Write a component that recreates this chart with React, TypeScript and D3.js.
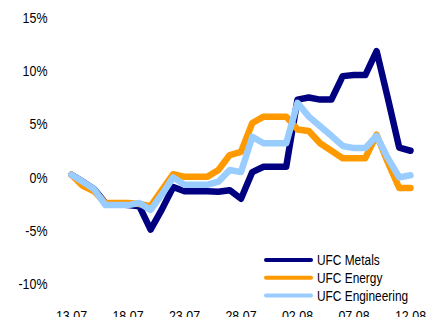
import React from "react";
import * as d3 from "d3";

const dates = [
  "13.07","14.07","15.07","16.07","17.07","18.07","19.07","20.07","21.07","22.07",
  "23.07","24.07","25.07","26.07","27.07","28.07","29.07","30.07","31.07","01.08",
  "02.08","03.08","04.08","05.08","06.08","07.08","08.08","09.08","10.08","11.08","12.08",
];
const tickLabels = ["13.07","18.07","23.07","28.07","02.08","07.08","12.08"];
const yTicks = [15, 10, 5, 0, -5, -10];

const metals = [
  0.25,-0.4,-1.1,-2.4,-2.5,-2.6,-2.7,-4.9,-3.0,-0.9,
  -1.3,-1.3,-1.3,-1.35,-1.2,-2.0,0.5,1.0,1.0,1.0,
  7.3,7.5,7.3,7.3,9.5,9.6,9.6,11.85,7.4,2.8,2.5,
];
const energy = [
  0.25,-0.8,-1.3,-2.4,-2.4,-2.4,-2.5,-2.7,-1.2,0.3,
  0.05,0.05,0.05,0.7,2.1,2.4,5.1,5.7,5.7,5.7,
  4.5,4.35,3.2,2.5,1.8,1.8,1.8,4.0,1.4,-1.0,-1.0,
];
const engineering = [
  0.25,-0.4,-1.1,-2.6,-2.6,-2.6,-2.4,-3.05,-1.6,0.0,
  -0.7,-0.7,-0.7,-0.4,0.7,0.5,3.8,3.2,3.2,3.2,
  7.0,5.7,4.8,3.9,2.95,2.75,2.75,3.9,1.8,0.0,0.2,
];

const seriesNames = ["UFC Metals", "UFC Energy", "UFC Engineering"];
const seriesColors = ["#000080", "#FF9900", "#99CCFF"];
const seriesData = [metals, energy, engineering];

const W = 427;
const H = 317;

export default function App() {
  const x = d3.scaleLinear().domain([0, dates.length - 1]).range([71.5, 410.5]);
  const y = d3.scaleLinear().domain([-10, 15]).range([284, 17.5]);
  const line = d3
    .line<number>()
    .x((_, i) => x(i))
    .y((d) => y(d));

  const font = "'Liberation Sans', Arial, sans-serif";

  return (
    <svg
      width={W}
      height={H}
      style={{ position: "fixed", left: 0, top: 0, background: "#fff" }}
    >
      {yTicks.map((t) => (
        <g key={t} transform={`translate(47.5,${y(t) + 5.3}) scale(0.86,1)`}>
          <text textAnchor="end" fontFamily={font} fontSize={14.5} fill="#000">
            {t}%
          </text>
        </g>
      ))}
      {tickLabels.map((lab) => {
        const i = dates.indexOf(lab);
        return (
          <g key={lab} transform={`translate(${x(i)},${320.5}) scale(0.86,1)`}>
            <text textAnchor="middle" fontFamily={font} fontSize={14.5} fill="#000">
              {lab}
            </text>
          </g>
        );
      })}
      {seriesData.map((d, k) => (
        <path
          key={seriesNames[k]}
          d={line(d) || ""}
          fill="none"
          stroke={seriesColors[k]}
          strokeWidth={6.5}
          strokeLinejoin="round"
          strokeLinecap="round"
        />
      ))}
      {seriesNames.map((n, k) => {
        const ly = 260 + k * 17.7;
        return (
          <g key={n}>
            <line
              x1={266}
              x2={311}
              y1={ly}
              y2={ly}
              stroke={seriesColors[k]}
              strokeWidth={4}
              strokeLinecap="round"
            />
            <g transform={`translate(317,${ly + 5.3}) scale(0.82,1)`}>
              <text fontFamily={font} fontSize={14.5} fill="#000">
                {n}
              </text>
            </g>
          </g>
        );
      })}
    </svg>
  );
}
